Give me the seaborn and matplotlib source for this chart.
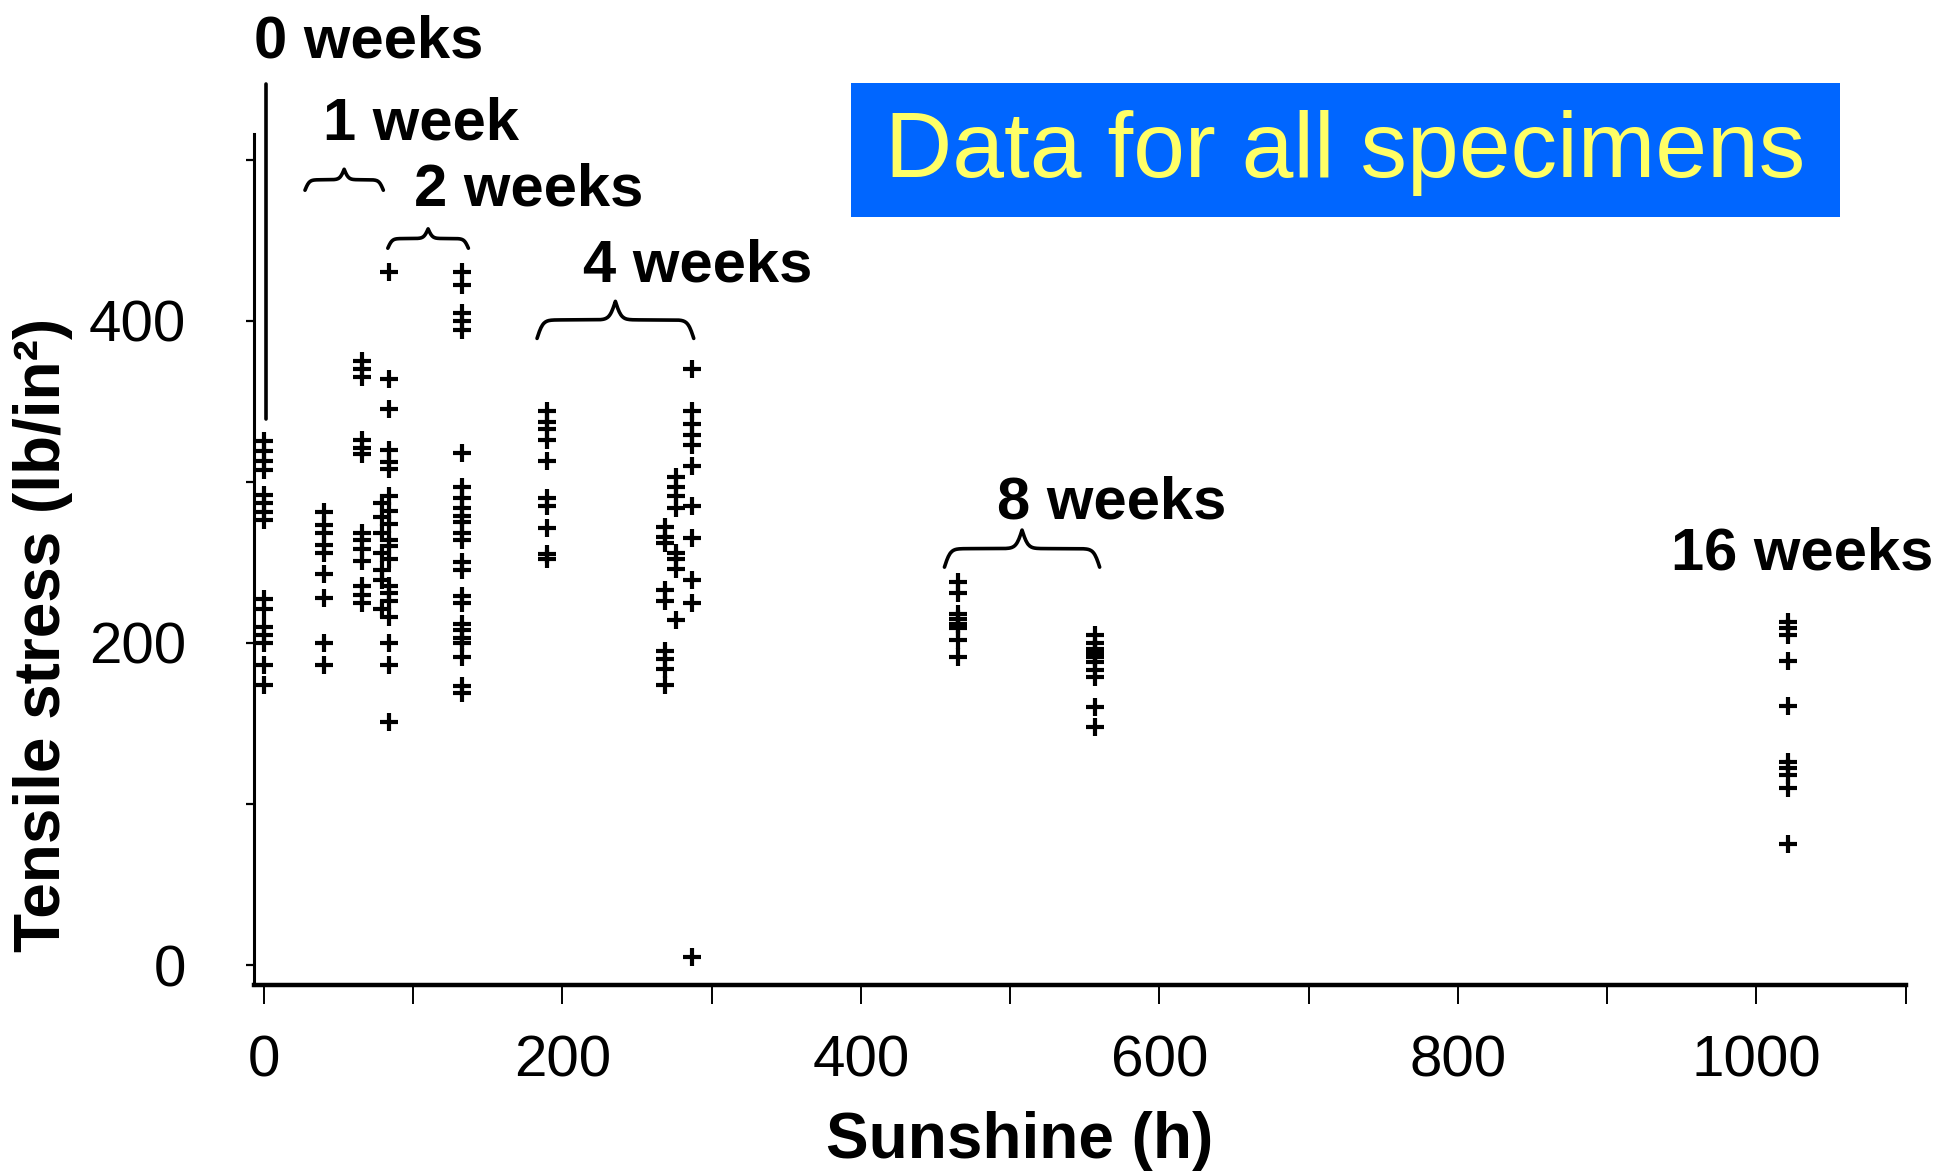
import numpy as np
import pandas as pd
import seaborn as sns
import matplotlib
matplotlib.use("Agg")
import matplotlib.pyplot as plt
from matplotlib.patches import Rectangle

# sunshine (h) of each column of specimens
sunshine = [0, 40, 66, 79, 84, 133, 190, 269, 276, 287, 465, 557, 1021]

# tensile stress (lb/in2), one list per column
stress_0wk = [325, 319, 313, 307, 292, 287, 281, 276, 227, 221, 210, 205, 200, 186, 174]
stress_1wk_a = [281, 273, 268, 261, 256, 243, 228, 200, 186]
stress_1wk_b = [375, 370, 365, 326, 321, 317, 268, 264, 258, 251, 235, 230, 225]
stress_2wk_a = [287, 278, 268, 256, 245, 239, 221]
stress_2wk_b = [430, 364, 345, 320, 312, 308, 291, 282, 274, 264, 260, 252,
                235, 231, 226, 216, 200, 186, 151]
stress_2wk_c = [430, 422, 405, 400, 394, 318, 297, 290, 284, 279, 275, 268, 264,
                250, 245, 229, 225, 212, 208, 203, 200, 191, 173, 169]
stress_4wk_a = [344, 337, 333, 326, 313, 290, 285, 271, 255, 252]
stress_4wk_b = [272, 266, 262, 233, 226, 195, 190, 184, 174]
stress_4wk_c = [303, 297, 291, 284, 256, 252, 246, 214]
stress_4wk_d = [370, 344, 336, 329, 323, 310, 285, 265, 239, 225, 5]
stress_8wk_a = [238, 231, 218, 215, 212, 209, 202, 191]
stress_8wk_b = [205, 200, 196, 194, 191, 188, 183, 179, 160, 148]
stress_16wk = [213, 209, 205, 189, 161, 126, 122, 118, 110, 75]

stress_sets = [stress_0wk, stress_1wk_a, stress_1wk_b, stress_2wk_a, stress_2wk_b,
               stress_2wk_c, stress_4wk_a, stress_4wk_b, stress_4wk_c, stress_4wk_d,
               stress_8wk_a, stress_8wk_b, stress_16wk]

rows = []
for h, vals in zip(sunshine, stress_sets):
    for v in vals:
        rows.append((h, v))
df = pd.DataFrame(rows, columns=["sunshine", "stress"])

sns.set_theme(style="ticks")
plt.rcParams["font.family"] = ["Liberation Sans", "DejaVu Sans"]
plt.rcParams["text.color"] = "black"

fig = plt.figure(figsize=(19.43, 11.74), dpi=100)
ax = fig.add_axes([0.1307, 0.161, 0.850, 0.725])

sns.scatterplot(data=df, x="sunshine", y="stress", marker="+", s=160,
                linewidth=3.0, color="black", ax=ax, legend=False, clip_on=False)

ax.set_xlim(-6.7, 1100)
ax.set_ylim(-12.4, 516)
for s in ["top", "right"]:
    ax.spines[s].set_visible(False)
ax.spines["bottom"].set_linewidth(3.2)
ax.spines["left"].set_linewidth(2.2)
ax.spines["bottom"].set_color("black")
ax.spines["left"].set_color("black")

ax.set_xticks([0, 200, 400, 600, 800, 1000])
ax.set_xticks([100, 300, 500, 700, 900, 1100], minor=True)
ax.set_xticklabels(["0", "200", "400", "600", "800", "1000"])
ax.set_yticks([0, 200, 400])
ax.set_yticks([100, 300, 500], minor=True)
ax.set_yticklabels(["0", "200", "400"])
ax.tick_params(axis="x", which="both", direction="out", length=14, width=1.4,
               pad=22, labelsize=42, colors="black")
ax.tick_params(axis="y", which="both", direction="out", length=6, width=1.6,
               pad=43, labelsize=42, colors="black")
ax.set_xlabel("")
ax.set_ylabel("")

fig.text(0.525, 0.028, "Sunshine (h)", ha="center", va="center",
         fontsize=46, fontweight="bold")
fig.text(0.022, 0.459, "Tensile stress (lb/in²)", ha="center", va="center",
         rotation=90, fontsize=46, fontweight="bold")


def brace(x0, x1, y0, height, beta=0.7):
    n = 201
    xs = np.linspace(x0, x1, n)
    xh = xs[: n // 2 + 1]
    yh = 1 / (1 + np.exp(-beta * (xh - xh[0]))) + 1 / (1 + np.exp(-beta * (xh - xh[-1])))
    ys = np.concatenate((yh, yh[-2::-1]))
    ys = y0 + (ys - 0.5) * height
    ax.plot(xs, ys, color="black", lw=2.6, clip_on=False, solid_capstyle="round")


brace(27.5, 80, 481, 13)
brace(83, 137, 445, 12)
brace(183, 288, 389, 23, beta=0.5)
brace(456, 560, 247, 23, beta=0.5)

# line from the "0 weeks" label down to its specimens
ax.plot([1.5, 1.5], [339, 547], color="black", lw=2.6, clip_on=False)

week_kw = dict(ha="center", va="center", fontsize=43, fontweight="bold", clip_on=False)
ax.text(70, 573, "0 weeks", **week_kw)
ax.text(105, 522, "1 week", **week_kw)
ax.text(177.5, 481, "2 weeks", **week_kw)
ax.text(290.5, 434, "4 weeks", **week_kw)
ax.text(568, 287, "8 weeks", **week_kw)
ax.text(1031, 255, "16 weeks", **week_kw)

fig.patches.append(Rectangle((0.438, 0.815), 0.509, 0.114, transform=fig.transFigure,
                             facecolor="#0066FF", edgecolor="none", zorder=5))
fig.text(0.6925, 0.870, "Data for all specimens", ha="center", va="center",
         fontsize=67, color="#FFFF66", family="Liberation Sans", zorder=6)

fig.savefig("out.png", dpi=100, facecolor="white")
